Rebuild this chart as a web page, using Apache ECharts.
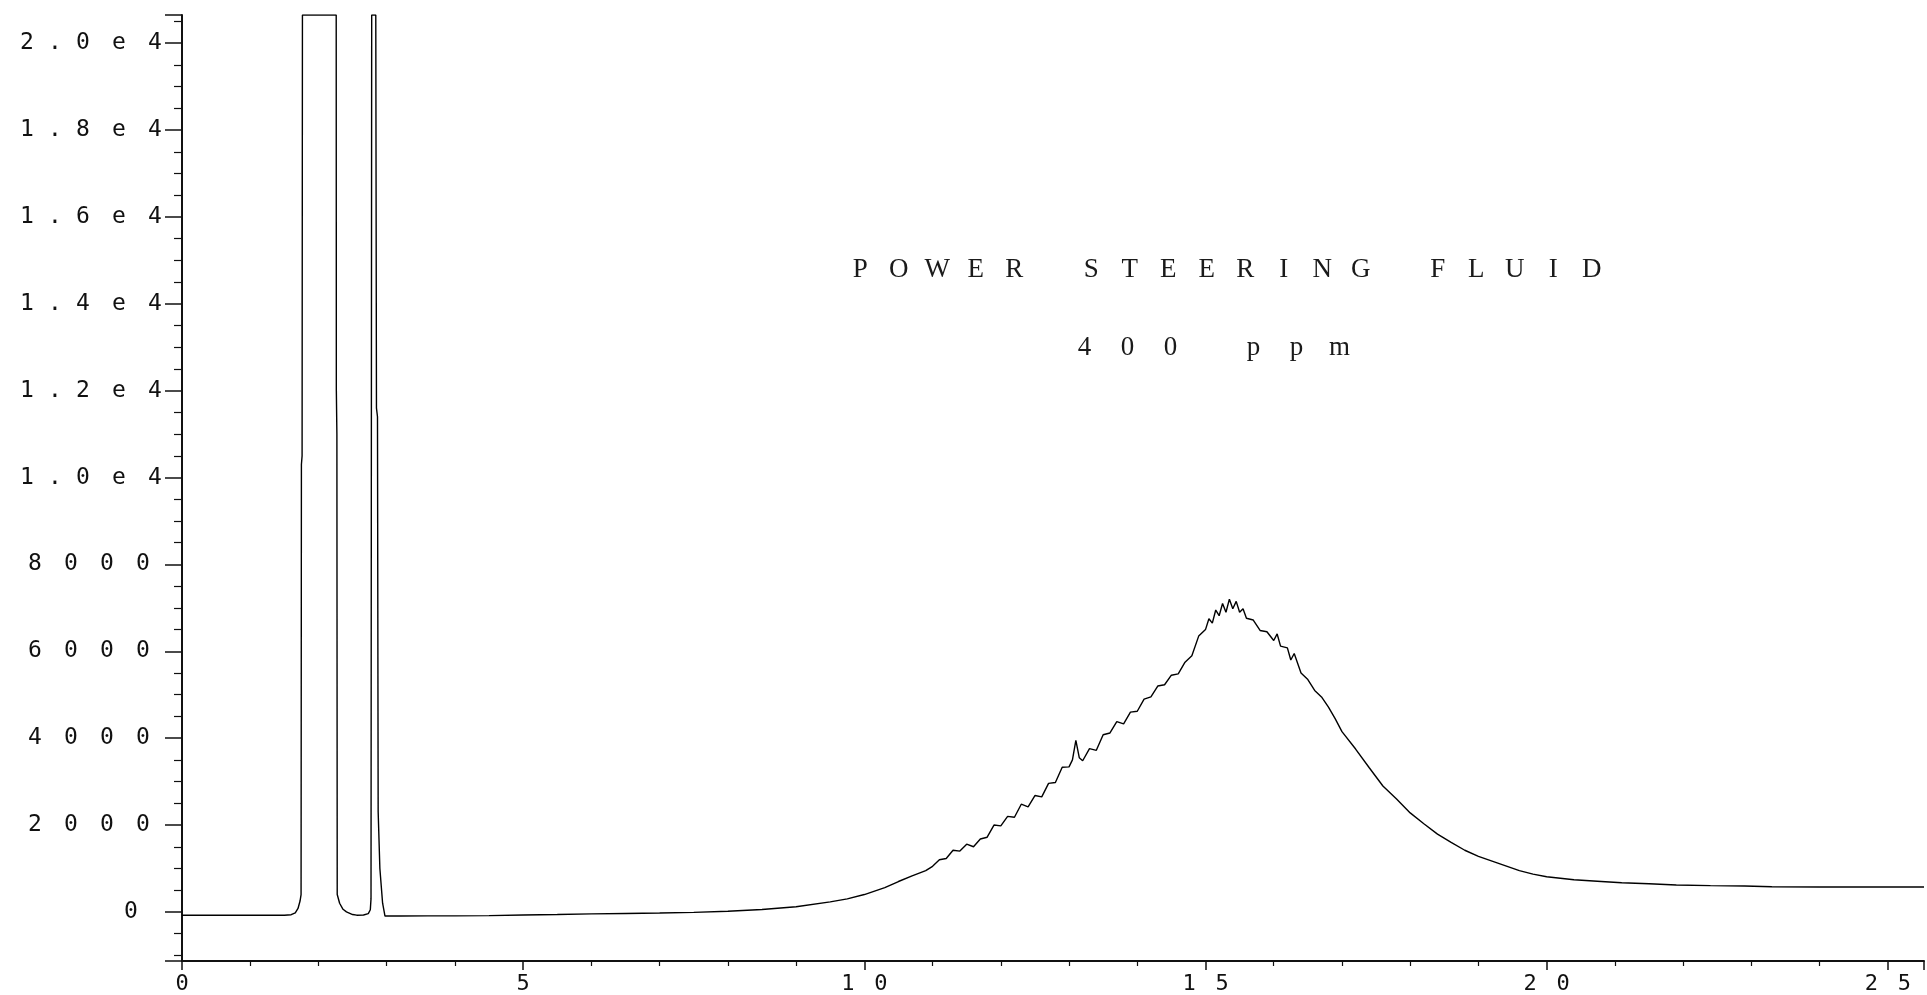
<!DOCTYPE html>
<html>
<head>
<meta charset="utf-8">
<title>Power steering fluid 400 ppm</title>
<script src="https://cdn.jsdelivr.net/npm/echarts@6/dist/echarts.min.js"></script>
<style>
  html, body { margin: 0; padding: 0; background: #fff; }
  #chart { width: 1927px; height: 995px; }
</style>
</head>
<body>
<div id="chart"></div>
<script>
// retention time (min) and detector response
const solventTimes = [0, 1.5, 1.6, 1.66, 1.7, 1.73, 1.745, 1.75, 1.76, 1.765, 2.26, 2.262, 2.27, 2.275, 2.31, 2.36, 2.41, 2.5, 2.56, 2.66, 2.73, 2.76, 2.77, 2.78, 2.84, 2.85, 2.865, 2.875, 2.9, 2.94, 2.975]
const solventSignal = [-75, -75, -65, -20, 80, 250, 400, 10300, 10500, 20650, 20650, 12000, 11000, 400, 200, 60, 0, -60, -75, -70, -40, 50, 300, 20650, 20650, 11600, 11400, 2300, 1000, 200, -95]

const baselineTimes = [3.2, 3.6, 4.0, 4.5, 5.0, 5.5, 6.0, 6.5, 7.0, 7.5, 8.0, 8.5, 9.0, 9.5, 9.75, 10.0, 10.3, 10.5, 10.7, 10.9]
const baselineSignal = [-95, -90, -90, -85, -70, -60, -45, -35, -25, -10, 15, 55, 120, 230, 300, 400, 560, 700, 830, 950]

const humpTimes = [
  11.0, 11.1, 11.2, 11.3, 11.4, 11.5, 11.6, 11.7, 11.8, 11.9,
  12.0, 12.1, 12.2, 12.3, 12.4, 12.5, 12.6, 12.7, 12.8, 12.9,
  13.0, 13.05, 13.1, 13.15, 13.2, 13.3, 13.4, 13.5, 13.6, 13.7, 13.8, 13.9,
  14.0, 14.1, 14.2, 14.3, 14.4, 14.5, 14.6, 14.7, 14.8, 14.9,
  15.0, 15.05, 15.1, 15.15, 15.2, 15.25, 15.3, 15.35, 15.4, 15.45, 15.5, 15.55, 15.6, 15.7, 15.8, 15.9,
  16.0, 16.05, 16.1, 16.2, 16.25, 16.3, 16.4, 16.5, 16.6, 16.7, 16.8, 16.9
]
const humpSignal = [
  1050, 1200, 1230, 1420, 1400, 1560, 1500, 1680, 1720, 2000,
  1980, 2200, 2180, 2480, 2420, 2680, 2650, 2960, 2980, 3330,
  3340, 3500, 3950, 3550, 3480, 3760, 3720, 4080, 4120, 4380, 4330, 4600,
  4620, 4900, 4950, 5200, 5230, 5450, 5480, 5750, 5900, 6350,
  6500, 6750, 6650, 6950, 6820, 7100, 6900, 7200, 6980, 7150, 6900, 6980, 6760, 6720, 6480, 6450,
  6250, 6400, 6120, 6080, 5800, 5950, 5500, 5350, 5100, 4950, 4720, 4450
]

const tailTimes = [17.0, 17.2, 17.4, 17.6, 17.8, 18.0, 18.2, 18.4, 18.6, 18.8, 19.0, 19.2, 19.4, 19.6, 19.8, 20.0, 20.4, 20.8, 21.1, 21.5, 21.9, 22.4, 22.9, 23.3, 24.0, 25.53]
const tailSignal = [4150, 3750, 3320, 2900, 2600, 2280, 2030, 1790, 1600, 1420, 1280, 1170, 1060, 950, 870, 810, 740, 700, 670, 650, 620, 605, 598, 580, 575, 575]

// y tick labels, indexed by value / 2000
const yTickLabels = ['0', '2000', '4000', '6000', '8000', '1.0e4', '1.2e4', '1.4e4', '1.6e4', '1.8e4', '2.0e4']
const xTickLabels = ['0', '5', '10', '15', '20', '25']
const titleLines = ['POWER STEERING FLUID', '400 ppm']

const chartDom = document.getElementById('chart')
const myChart = echarts.init(chartDom)

// 把每个字符放进固定宽度的格子里，模拟绘图仪字体的字距
function spread(str, key) {
  return str.split('').map(function (ch) {
    if (ch === ' ') return '{' + key + 'Gap| }'
    if (ch === '.') return '{' + key + 'Dot|.}'
    return '{' + key + '|' + ch + '}'
  }).join('')
}

const buildPairs = function (ts, vs) {
  return ts.map(function (t, i) { return [t, vs[i]] })
}
const trace = []
  .concat(buildPairs(solventTimes, solventSignal))
  .concat(buildPairs(baselineTimes, baselineSignal))
  .concat(buildPairs(humpTimes, humpSignal))
  .concat(buildPairs(tailTimes, tailSignal))

const labelFont = 'DejaVu Sans Mono'
const titleFont = 'Liberation Serif'
const ink = '#111'

const titleRich = function (pitch, gap) {
  return {
    t: { width: pitch, align: 'center', fontSize: 27, fontFamily: titleFont, fontWeight: 'normal', color: '#1a1a1a' },
    tGap: { width: gap, fontSize: 27 },
    tDot: { width: 20, align: 'center', fontSize: 27, fontFamily: titleFont, color: '#1a1a1a' }
  }
}

const option = {
  backgroundColor: '#fff',
  animation: false,
  title: [
    {
      text: spread(titleLines[0], 't'),
      left: 836,
      top: 251,
      textStyle: { rich: titleRich(38.5, 38.5) }
    },
    {
      text: spread(titleLines[1], 't'),
      left: 1058,
      top: 329,
      textStyle: { rich: titleRich(43, 40) }
    }
  ],
  grid: {
    left: 182,
    right: 0,
    top: 15,
    bottom: 34
  },
  xAxis: {
    type: 'value',
    min: 0,
    max: 25.53,
    interval: 5,
    axisLine: { onZero: false, lineStyle: { color: ink, width: 2 } },
    axisTick: { length: 9, lineStyle: { color: ink, width: 1.5 } },
    minorTick: { show: true, splitNumber: 5, length: 5, lineStyle: { color: ink, width: 1.2 } },
    splitLine: { show: false },
    axisLabel: {
      margin: 12,
      formatter: function (v) {
        const idx = Math.round(v / 5)
        if (Math.abs(v - idx * 5) > 1e-6 || !xTickLabels[idx]) return ''
        return spread(xTickLabels[idx], 'x')
      },
      rich: {
        x: { width: 33, align: 'center', fontSize: 22, fontFamily: labelFont, color: ink }
      }
    }
  },
  yAxis: {
    type: 'value',
    min: -1130,
    max: 20650,
    splitNumber: 10,
    minInterval: 2000,
    maxInterval: 2000,
    axisLine: { show: true, onZero: false, lineStyle: { color: ink, width: 2 } },
    axisTick: { show: true, length: 17, lineStyle: { color: ink, width: 1.5 } },
    minorTick: { show: true, splitNumber: 4, length: 8, lineStyle: { color: ink, width: 1.2 } },
    splitLine: { show: false },
    axisLabel: {
      margin: 9,
      formatter: function (v) {
        const idx = Math.round(v / 2000)
        if (Math.abs(v - idx * 2000) > 1e-6 || !yTickLabels[idx]) return ''
        const txt = yTickLabels[idx]
        // plain numbers sit a little further from the axis than the e4 ones
        if (txt.indexOf('e') >= 0) return spread(txt, 'y')
        return spread(txt, 'y') + (txt.length === 1 ? '{yPadWide| }' : '{yPad| }')
      },
      rich: {
        y: { width: 36, align: 'center', fontSize: 23, fontFamily: labelFont, color: ink },
        yDot: { width: 20, align: 'center', fontSize: 23, fontFamily: labelFont, color: ink },
        yPad: { width: 12, fontSize: 23 },
        yPadWide: { width: 24, fontSize: 23 }
      }
    }
  },
  series: [
    {
      type: 'line',
      data: trace,
      showSymbol: false,
      clip: true,
      lineStyle: { color: '#000', width: 1.4 }
    }
  ]
}

myChart.setOption(option)

window.addEventListener('resize', function () {
  myChart.resize()
})
</script>
</body>
</html>
